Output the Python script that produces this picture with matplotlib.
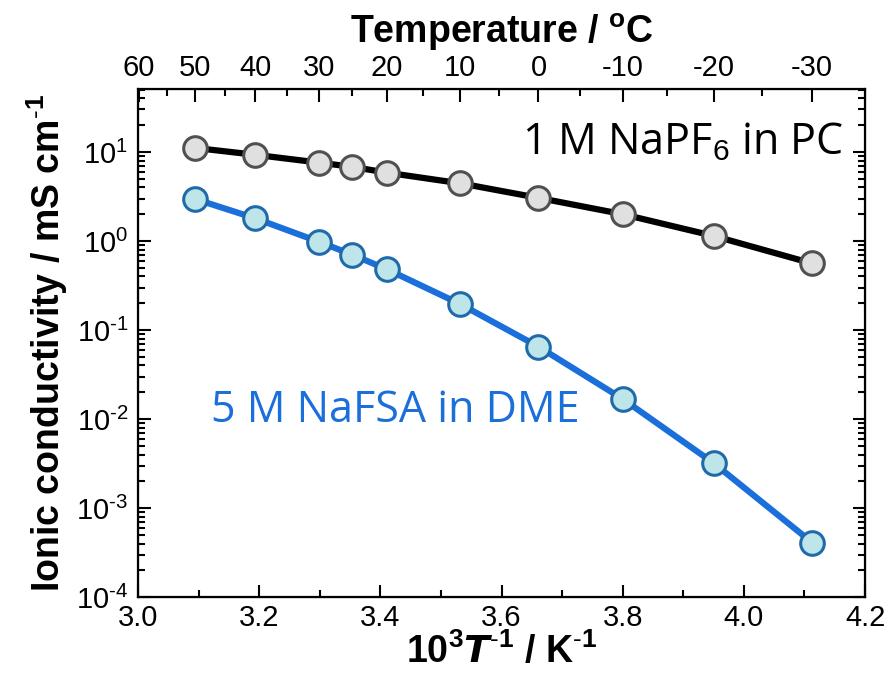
import numpy as np
import matplotlib.pyplot as plt
from matplotlib.ticker import FixedLocator, LogLocator, NullFormatter, MultipleLocator, FuncFormatter

# temperatures of the measurements (deg C)
temps_c = [50, 40, 30, 25, 20, 10, 0, -10, -20, -30]
inv_t = [1000.0 / (t + 273.15) for t in temps_c]

# ionic conductivity / mS cm-1
napf6_pc = [11.1, 9.3, 7.6, 6.8, 5.85, 4.45, 3.05, 2.0, 1.14, 0.56]
nafsa_dme = [2.96, 1.80, 0.98, 0.70, 0.48, 0.196, 0.065, 0.0168, 0.0032, 0.00041]

top_labels = [60, 50, 40, 30, 20, 10, 0, -10, -20, -30]
top_minor = [55, 45, 35, 25, 15, 5, -5, -15, -25]

plt.rcParams['font.family'] = ['Liberation Sans', 'DejaVu Sans']
plt.rcParams['axes.unicode_minus'] = False
plt.rcParams['mathtext.fontset'] = 'custom'
plt.rcParams['mathtext.rm'] = 'Liberation Sans'
plt.rcParams['mathtext.it'] = 'Liberation Sans:italic'
plt.rcParams['mathtext.bf'] = 'Liberation Sans:bold'


def decade(v, pos):
    n = int(round(np.log10(v)))
    if n < 0:
        return r'$10^{\text{-}%d}$' % (-n)
    return r'$10^{%d}$' % n


fig = plt.figure(figsize=(8.9, 6.74), dpi=100)
ax = fig.add_axes([0.155, 0.114, 0.817, 0.754])

ax.plot(inv_t, napf6_pc, '-o', color='black', lw=4.5, ms=17,
        mfc='#e0e0e0', mec='#505050', mew=2.2, zorder=3)
ax.plot(inv_t, nafsa_dme, '-o', color='#1a6fdb', lw=4.5, ms=17,
        mfc='#bde5ea', mec='#1f6aab', mew=2.2, zorder=3)

ax.set_yscale('log')
ax.set_xlim(3.0, 4.2)
ax.set_ylim(1e-4, 51)
ax.xaxis.set_major_locator(MultipleLocator(0.2))
ax.xaxis.set_minor_locator(MultipleLocator(0.1))
ax.xaxis.set_major_formatter(FuncFormatter(lambda v, p: f'{v:.1f}'))
ax.yaxis.set_major_locator(LogLocator(base=10, numticks=20))
ax.yaxis.set_minor_locator(LogLocator(base=10, subs=np.arange(2, 10), numticks=20))
ax.yaxis.set_major_formatter(FuncFormatter(decade))
ax.yaxis.set_minor_formatter(NullFormatter())

ax.tick_params(which='both', direction='in', right=True, labelsize=21, width=1.5)
ax.tick_params(which='major', length=9, pad=5)
ax.tick_params(axis='y', which='major', pad=7)
ax.tick_params(which='minor', length=5)
ax.tick_params(axis='x', which='both', top=False)
for s in ax.spines.values():
    s.set_linewidth(1.6)

ax.set_xlabel(r'$\mathbf{10^3}\boldsymbol{T}^{\mathbf{\text{-}1}}$ / K$^{\mathbf{\text{-}1}}$',
              fontsize=27, fontweight='bold', labelpad=0)
ax.set_ylabel(r'Ionic conductivity / mS cm$^{\mathbf{\text{-}1}}$',
              fontsize=27, fontweight='bold', labelpad=4)

# top temperature axis
top = ax.twiny()
top.set_xlim(ax.get_xlim())
top.xaxis.set_major_locator(FixedLocator([1000.0 / (t + 273.15) for t in top_labels]))
top.xaxis.set_minor_locator(FixedLocator([1000.0 / (t + 273.15) for t in top_minor]))
top.set_xticklabels([str(t) for t in top_labels])
top.tick_params(which='both', direction='in', labelsize=21, width=1.5)
top.tick_params(which='major', length=9, pad=5)
top.tick_params(which='minor', length=5)
top.set_xlabel(r'Temperature / $\mathbf{^{o}}$C', fontsize=27, fontweight='bold',
               labelpad=8)

ax.text(4.165, 12.5, r'1 M NaPF$_6$ in PC', fontsize=31, ha='right', va='center',
        family=['Open Sans', 'DejaVu Sans'], color='black')
ax.text(3.12, 0.0125, '5 M NaFSA in DME', fontsize=31, ha='left', va='center',
        family=['Open Sans', 'DejaVu Sans'], color='#1a6fdb')

fig.savefig('out.png', dpi=100)
